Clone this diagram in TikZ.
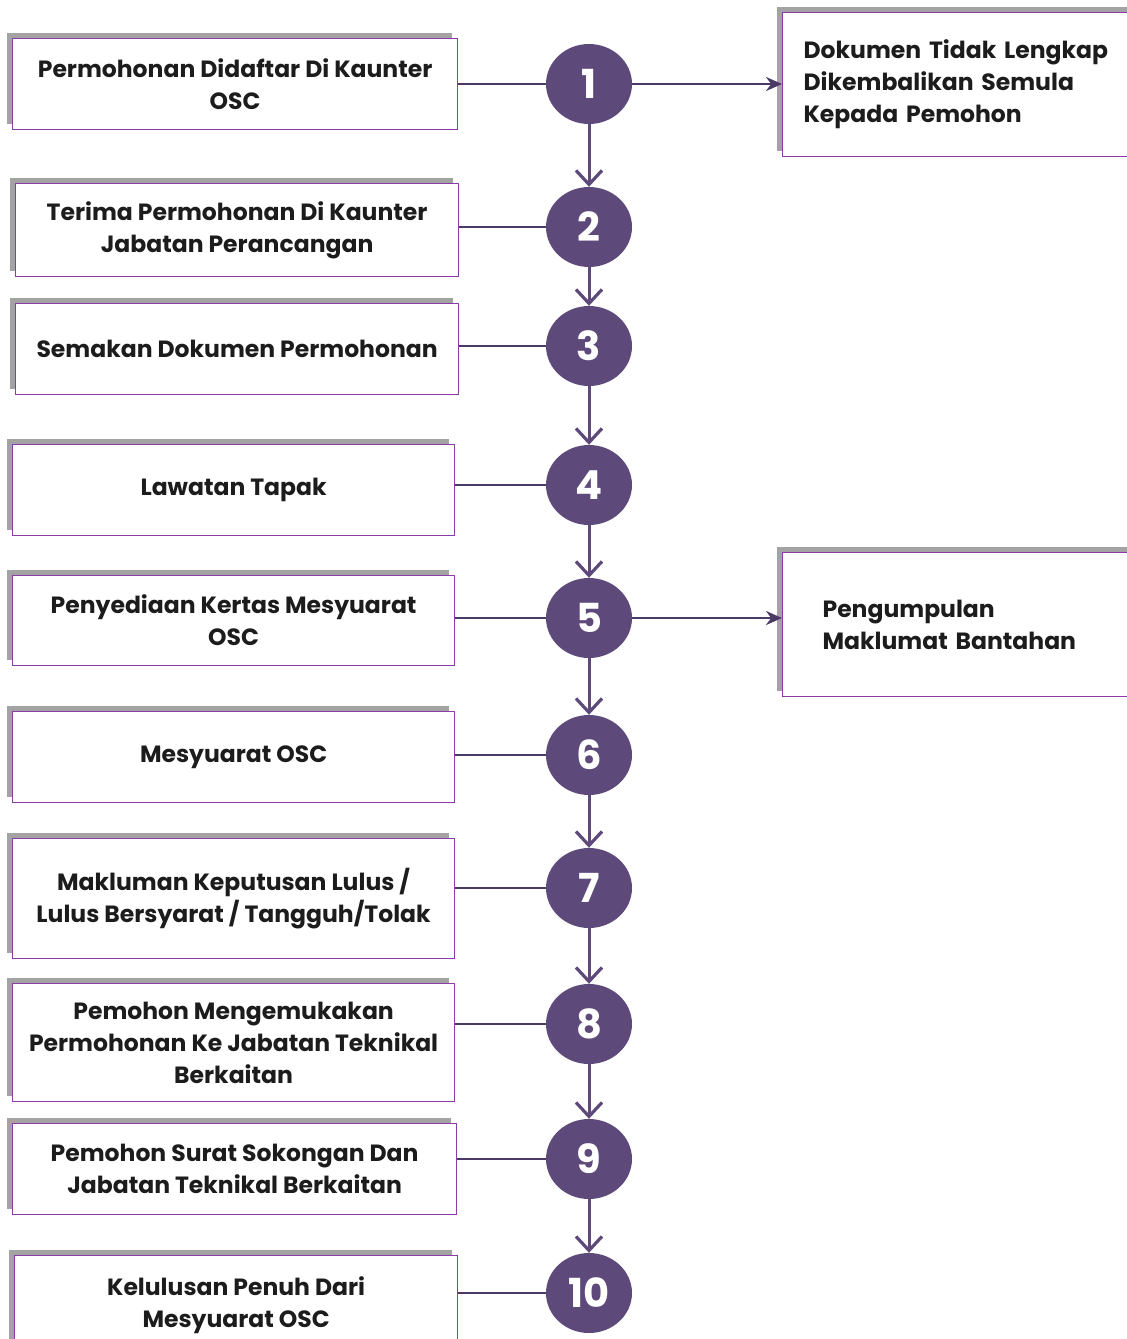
\documentclass[tikz,border=0pt]{standalone}
\usepackage{fontspec}
\setmainfont{Poppins}
\usetikzlibrary{arrows.meta,shadows,shapes.geometric}

\definecolor{circfill}{HTML}{5E4A7A}
\definecolor{linkcol}{HTML}{4B3A66}
\definecolor{boxborder}{HTML}{8A3DA6}
\definecolor{shadowgray}{HTML}{A3A3A3}
\definecolor{textblack}{HTML}{1C1C1C}

\tikzset{
  stepbox/.style={draw=boxborder, line width=1.2pt, fill=white, inner sep=0pt,
    anchor=north west, align=center, text=textblack,
    font=\bfseries\fontsize{23.5}{32}\selectfont,
    general shadow={fill=shadowgray, shadow xshift=-6pt, shadow yshift=6pt}},
  sidebox/.style={stepbox, align=left, minimum height=144pt},
  numdot/.style={ellipse, fill=circfill, minimum width=86pt, minimum height=80pt,
    inner sep=0pt, text=white, font=\bfseries\fontsize{40}{40}\selectfont},
  link/.style={draw=linkcol, line width=2.2pt},
  down/.style={draw=circfill, line width=3pt,
    -{Straight Barb[length=14pt,width=26pt,line width=3.2pt]}},
  push/.style={draw=linkcol, line width=2.5pt, -{Stealth[length=16pt,width=14pt]}},
}

\begin{document}
\begin{tikzpicture}[x=1pt, y=-1pt]
    \useasboundingbox (0,0) rectangle (1127,1339);
    \clip (0,0) rectangle (1127,1339);

    % numbered steps
    \foreach \n/\y in {1/84,2/227,3/346,4/485,5/618,6/755,7/888,8/1024,9/1159,10/1293}
    {
        \node[numdot] (c\n) at (589,\y) {\n};
    }

    % left boxes
    \node[stepbox, minimum width=445pt, minimum height=91pt] (b1) at (12,38)
        {Permohonan Didaftar Di Kaunter\\OSC};
    \node[stepbox, minimum width=443pt, minimum height=93pt] (b2) at (15,183)
        {Terima Permohonan Di Kaunter\\Jabatan Perancangan};
    \node[stepbox, minimum width=443pt, minimum height=91pt] (b3) at (15,303)
        {Semakan Dokumen Permohonan};
    \node[stepbox, minimum width=442pt, minimum height=91pt] (b4) at (12,444)
        {Lawatan Tapak};
    \node[stepbox, minimum width=442pt, minimum height=90pt] (b5) at (12,575)
        {Penyediaan Kertas Mesyuarat\\OSC};
    \node[stepbox, minimum width=442pt, minimum height=91pt] (b6) at (12,711)
        {Mesyuarat OSC};
    \node[stepbox, minimum width=442pt, minimum height=120pt] (b7) at (12,838)
        {Makluman Keputusan Lulus /\\Lulus Bersyarat / Tangguh/Tolak};
    \node[stepbox, minimum width=442pt, minimum height=118pt] (b8) at (12,983)
        {Pemohon Mengemukakan\\Permohonan Ke Jabatan Teknikal\\Berkaitan};
    \node[stepbox, minimum width=444pt, minimum height=91pt] (b9) at (12,1123)
        {Pemohon Surat Sokongan Dan\\Jabatan Teknikal Berkaitan};
    \node[stepbox, minimum width=443pt, minimum height=100pt] (b10) at (14,1255)
        {Kelulusan Penuh Dari\\Mesyuarat OSC};

    % right boxes
    \node[sidebox, text width=330pt, inner xsep=21pt] (sa) at (782,12)
        {Dokumen Tidak Lengkap\\Dikembalikan Semula\\Kepada Pemohon};
    \node[sidebox, text width=310pt, inner xsep=40pt] (sb) at (782,552)
        {Pengumpulan\\Maklumat Bantahan};

    % box to circle
    \foreach \n in {1,...,10}
    {
        \draw[link] (c\n -| b\n.east) -- (c\n);
    }

    % circle to circle
    \foreach \n [evaluate=\n as \m using int(\n+1)] in {1,...,9}
    {
        \draw[down] (c\n) -- (c\m);
    }

    \draw[push] (c1) -- (c1 -| sa.west);
    \draw[push] (c5) -- (c5 -| sb.west);
\end{tikzpicture}
\end{document}
